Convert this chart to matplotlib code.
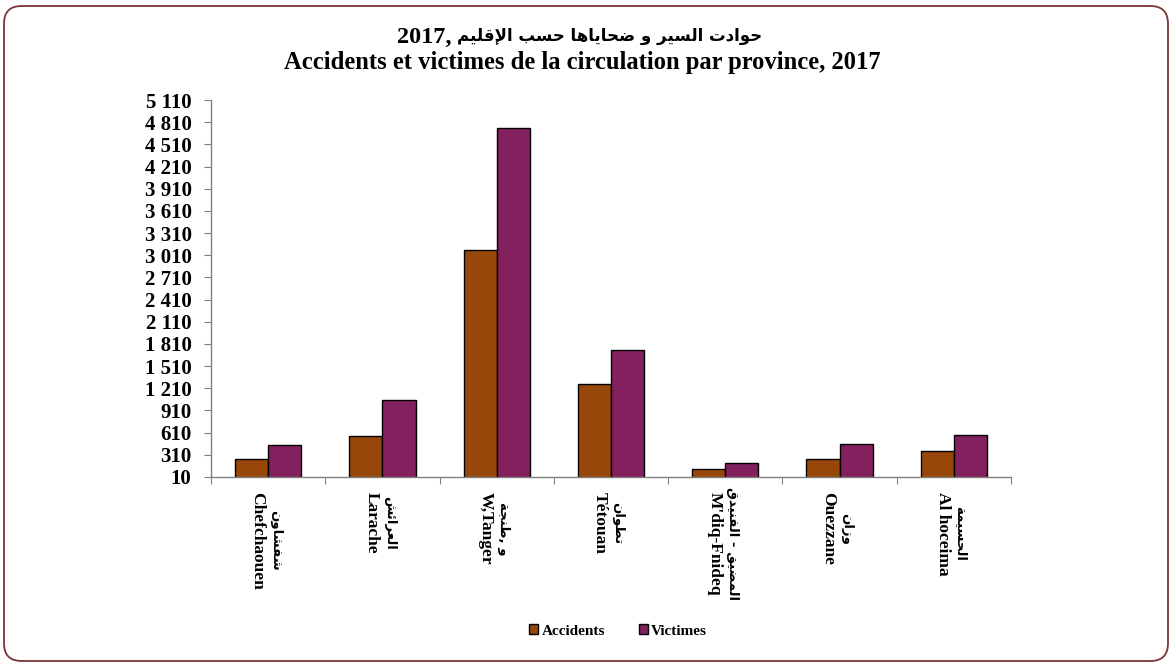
import matplotlib
matplotlib.use("Agg")
import matplotlib.pyplot as plt
from matplotlib.patches import FancyBboxPatch, Patch
from matplotlib.ticker import FuncFormatter

# ---------------- data ----------------
provinces_fr = ["Chefchaouen", "Larache", "W,Tanger", "Tétouan", "M'diq-Fnideq", "Ouezzane", "Al hoceima"]
provinces_ar = ["شفشاون", "العرائش", "و ,طنجة", "تطوان", "المضيق - الفنيدق", "وزان", "الحسيمة"]
accidents = [254, 559, 3076, 1272, 122, 258, 362]
victimes = [447, 1052, 4727, 1723, 199, 451, 582]
y_ticks = list(range(10, 5111, 300))
title_ar = "حوادت السير و ضحاياها حسب الإقليم"
title_year = "2017,"
title_fr = "Accidents et victimes de la circulation par province, 2017"
series_names = ["Accidents", "Victimes"]

# ---------------- minimal Arabic shaping ----------------
DUAL = {'ب': 0xFE8F, 'ت': 0xFE95, 'ث': 0xFE99, 'ج': 0xFE9D, 'ح': 0xFEA1, 'خ': 0xFEA5,
        'س': 0xFEB1, 'ش': 0xFEB5, 'ص': 0xFEB9, 'ض': 0xFEBD, 'ط': 0xFEC1, 'ظ': 0xFEC5,
        'ع': 0xFEC9, 'غ': 0xFECD, 'ف': 0xFED1, 'ق': 0xFED5, 'ك': 0xFED9, 'ل': 0xFEDD,
        'م': 0xFEE1, 'ن': 0xFEE5, 'ه': 0xFEE9, 'ي': 0xFEF1, 'ئ': 0xFE89}
RIGHT = {'ا': 0xFE8D, 'أ': 0xFE83, 'إ': 0xFE87, 'آ': 0xFE81, 'د': 0xFEA9, 'ذ': 0xFEAB,
         'ر': 0xFEAD, 'ز': 0xFEAF, 'و': 0xFEED, 'ة': 0xFE93, 'ؤ': 0xFE85}
LAMALEF = {'ا': 0xFEFB, 'أ': 0xFEF7, 'إ': 0xFEF9, 'آ': 0xFEF5}


def shape(text):
    chars = list(text)
    n = len(chars)
    out = []
    i = 0
    while i < n:
        c = chars[i]
        if c not in DUAL and c not in RIGHT:
            out.append(c)
            i += 1
            continue
        prev_j = i > 0 and chars[i - 1] in DUAL
        if c == 'ل' and i + 1 < n and chars[i + 1] in LAMALEF:
            out.append(chr(LAMALEF[chars[i + 1]] + (1 if prev_j else 0)))
            i += 2
            continue
        next_j = i + 1 < n and (chars[i + 1] in DUAL or chars[i + 1] in RIGHT)
        if c in DUAL:
            base = DUAL[c]
            if prev_j and next_j:
                off = 3
            elif next_j:
                off = 2
            elif prev_j:
                off = 1
            else:
                off = 0
        else:
            base = RIGHT[c]
            off = 1 if prev_j else 0
        out.append(chr(base + off))
        i += 1
    return ''.join(out)[::-1]


FAM = ['Liberation Serif', 'DejaVu Sans']
plt.rcParams['font.family'] = FAM
plt.rcParams['font.weight'] = 'bold'

col_acc = '#98470A'
col_vic = '#83205E'

fig = plt.figure(figsize=(11.73, 6.65), dpi=100)
fig.patch.set_facecolor('white')

# rounded border
border = FancyBboxPatch((4 / 1173, 4 / 665), 1164 / 1173, 655 / 665,
                        boxstyle="round,pad=0,rounding_size=0.015",
                        transform=fig.transFigure, facecolor='none',
                        edgecolor='#7A3535', linewidth=1.3, mutation_aspect=1173 / 665)
fig.patches.append(border)

ax = fig.add_axes([211 / 1173, 1 - 477 / 665, 800 / 1173, 377 / 665])

x = list(range(len(provinces_fr)))
w = 0.29
ax.bar([xi - w / 2 for xi in x], accidents, width=w, bottom=0, color=col_acc,
       edgecolor='black', linewidth=1.0, label=series_names[0])
ax.bar([xi + w / 2 for xi in x], victimes, width=w, bottom=0, color=col_vic,
       edgecolor='black', linewidth=1.0, label=series_names[1])

ax.set_ylim(10, 5110)
ax.set_xlim(-0.5, len(x) - 0.5)
ax.set_yticks(y_ticks)
ax.yaxis.set_major_formatter(FuncFormatter(lambda v, p: f"{int(v):,}".replace(",", " ")))
ax.tick_params(axis='y', labelsize=15, length=5, color='#808080', pad=9)
for lab in ax.get_yticklabels():
    lab.set_fontweight('bold')

# category boundary ticks
ax.set_xticks([xi - 0.5 for xi in x] + [len(x) - 0.5])
ax.set_xticklabels([])
ax.tick_params(axis='x', which='major', length=5, color='#808080')

for s in ['top', 'right']:
    ax.spines[s].set_visible(False)
for s in ['left', 'bottom']:
    ax.spines[s].set_color('#808080')
    ax.spines[s].set_linewidth(1.0)

# category labels: French line (left) and Arabic line (right), rotated
renderer = fig.canvas.get_renderer()
for xi, fr, ar in zip(x, provinces_fr, provinces_ar):
    t_fr = ax.annotate(fr, xy=(xi, 0), xycoords=('data', 'axes fraction'),
                       xytext=(-11, -15), textcoords='offset pixels',
                       rotation=-90, ha='center', va='top',
                       fontsize=12.5, fontweight='bold', family='Liberation Serif',
                       annotation_clip=False)
    bb = t_fr.get_window_extent(renderer)
    length = bb.height
    ax.annotate(shape(ar), xy=(xi, 0), xycoords=('data', 'axes fraction'),
                xytext=(7, -15 - length / 2), textcoords='offset pixels',
                rotation=-90, ha='center', va='center',
                fontsize=9.5, fontweight='bold', family='DejaVu Sans',
                annotation_clip=False)

# title line 1: year (serif) + Arabic part
fig.text(452 / 1173, 1 - 37 / 665, title_year, ha='right', va='center',
         fontsize=17.5, fontweight='bold', family='Liberation Serif')
fig.text(457 / 1173, 1 - 36 / 665, shape(title_ar), ha='left', va='center',
         fontsize=12, fontweight='bold', family='DejaVu Sans')
fig.text(582 / 1173, 1 - 62 / 665, title_fr, ha='center', va='center',
         fontsize=17.7, fontweight='bold')

handles = [Patch(facecolor=col_acc, edgecolor='black', linewidth=1.0),
           Patch(facecolor=col_vic, edgecolor='black', linewidth=1.0)]
leg = fig.legend(handles, series_names, loc='center', bbox_to_anchor=(618 / 1173, 1 - 631 / 665),
                 ncol=2, frameon=False, handlelength=0.6, handleheight=0.6,
                 handletextpad=0.2, columnspacing=2.2, prop={'weight': 'bold', 'size': 11})

fig.savefig("out.png", dpi=100)
